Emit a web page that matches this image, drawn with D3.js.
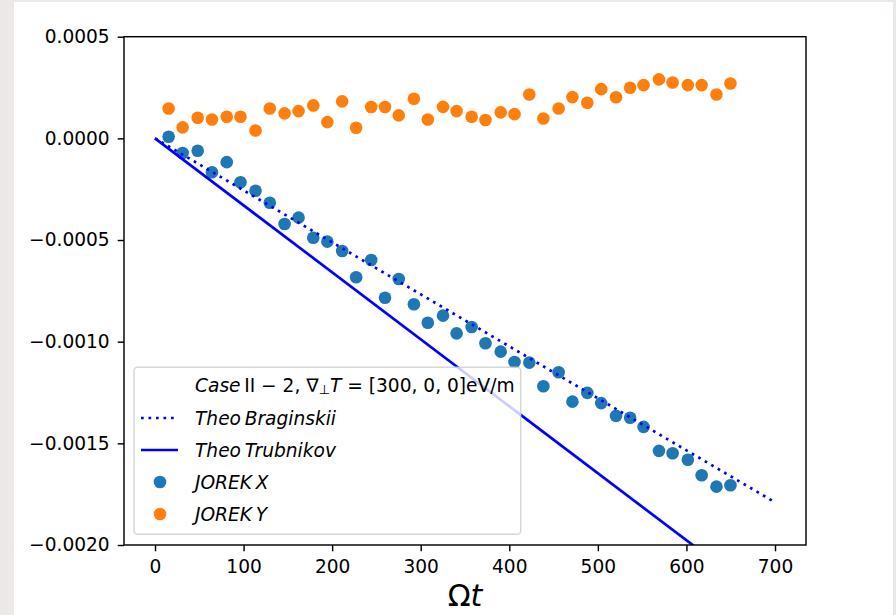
<!DOCTYPE html>
<html>
<head>
<meta charset="utf-8">
<script src="https://cdn.jsdelivr.net/npm/d3@7/dist/d3.min.js"></script>
<style>
  html, body { margin: 0; padding: 0; background: #ede8e8; }
  svg { display: block; }
  text { font-family: "DejaVu Sans", sans-serif; }
</style>
</head>
<body>
<svg id="chart" width="896" height="615"></svg>
<script>
// ---------------- data ----------------
const timeJorek = [15.4, 31.2, 48.2, 64.3, 81.0, 96.5, 113.5, 129.6, 146.3, 162.1,
  178.7, 194.6, 211.3, 227.1, 244.1, 259.7, 275.2, 292.3, 308.0, 325.2,
  340.5, 357.5, 373.1, 390.3, 405.9, 422.6, 438.5, 455.7, 471.3, 488.1,
  503.8, 520.5, 536.4, 551.6, 569.0, 584.4, 601.6, 617.2, 633.9, 649.7];

const jorekX = [0.08e-4, -0.72e-4, -0.61e-4, -1.67e-4, -1.17e-4, -2.16e-4, -2.58e-4, -3.17e-4, -4.21e-4, -3.90e-4,
  -4.89e-4, -5.08e-4, -5.54e-4, -6.83e-4, -5.98e-4, -7.84e-4, -6.92e-4, -8.16e-4, -9.07e-4, -8.72e-4,
  -9.59e-4, -9.28e-4, -10.08e-4, -10.49e-4, -11.00e-4, -11.03e-4, -12.19e-4, -11.50e-4, -12.95e-4, -12.52e-4,
  -13.02e-4, -13.65e-4, -13.74e-4, -14.19e-4, -15.37e-4, -15.49e-4, -15.81e-4, -16.57e-4, -17.13e-4, -17.06e-4];

const jorekY = [1.47e-4, 0.54e-4, 1.01e-4, 0.93e-4, 1.06e-4, 1.06e-4, 0.39e-4, 1.47e-4, 1.23e-4, 1.34e-4,
  1.62e-4, 0.80e-4, 1.82e-4, 0.52e-4, 1.54e-4, 1.54e-4, 1.13e-4, 1.95e-4, 0.93e-4, 1.55e-4,
  1.34e-4, 1.06e-4, 0.90e-4, 1.28e-4, 1.19e-4, 2.16e-4, 0.98e-4, 1.47e-4, 2.03e-4, 1.75e-4,
  2.42e-4, 2.02e-4, 2.49e-4, 2.62e-4, 2.90e-4, 2.75e-4, 2.62e-4, 2.62e-4, 2.16e-4, 2.70e-4];

const timeTheo = [0, 700];
const theoBraginskii = [0, -1.79e-3];
const theoTrubnikov = [0, -2.306e-3];

const xTicks = [0, 100, 200, 300, 400, 500, 600, 700];
const yTicks = [0.0005, 0.0, -0.0005, -0.0010, -0.0015, -0.0020];

const legendLabels = ["case", "Theo Braginskii", "Theo Trubnikov", "JOREK X", "JOREK Y"];

// ---------------- layout ----------------
const W = 896, H = 615;
const L = 124, R = 806, T = 36.7, B = 545;
const C_BLUE = "#1f77b4", C_ORANGE = "#ff7f0e", C_LINE = "#0000ff";
const FS = 18.6;

const svg = d3.select("#chart");
svg.append("rect").attr("x", 0).attr("y", 0).attr("width", W).attr("height", H).attr("fill", "#ede8e8");
svg.append("rect").attr("x", 14).attr("y", 2).attr("width", 879).attr("height", H - 2).attr("fill", "#ffffff");

const x = d3.scaleLinear().domain([-35, 735]).range([L, R]);
const y = d3.scaleLinear().domain([-0.002, 0.0005]).range([B, T]);

svg.append("defs").append("clipPath").attr("id", "plotclip")
  .append("rect").attr("x", L).attr("y", T).attr("width", R - L).attr("height", B - T);

const plot = svg.append("g").attr("clip-path", "url(#plotclip)");

// scatter (drawn below lines, as matplotlib collections)
const ptsX = timeJorek.map((t, i) => [t, jorekX[i]]);
const ptsY = timeJorek.map((t, i) => [t, jorekY[i]]);
plot.selectAll("circle.jx").data(ptsX).enter().append("circle")
  .attr("class", "jx").attr("cx", d => x(d[0])).attr("cy", d => y(d[1]))
  .attr("r", 6.3).attr("fill", C_BLUE);
plot.selectAll("circle.jy").data(ptsY).enter().append("circle")
  .attr("class", "jy").attr("cx", d => x(d[0])).attr("cy", d => y(d[1]))
  .attr("r", 6.3).attr("fill", C_ORANGE);

const line = d3.line().x(d => x(d[0])).y(d => y(d[1]));
plot.append("path").datum(timeTheo.map((t, i) => [t, theoBraginskii[i]]))
  .attr("d", line).attr("fill", "none").attr("stroke", C_LINE)
  .attr("stroke-width", 2.7).attr("stroke-dasharray", "2.7,4.8");
plot.append("path").datum(timeTheo.map((t, i) => [t, theoTrubnikov[i]]))
  .attr("d", line).attr("fill", "none").attr("stroke", C_LINE)
  .attr("stroke-width", 2.7);

// axes
const fmtY = d => (d < 0 ? "\u2212" : "") + Math.abs(d).toFixed(4);
const xAxis = svg.append("g").attr("transform", `translate(0,${B})`)
  .call(d3.axisBottom(x).tickValues(xTicks).tickSize(6.3).tickPadding(8.5).tickSizeOuter(0).tickFormat(d => String(d)));
const yAxis = svg.append("g").attr("transform", `translate(${L},0)`)
  .call(d3.axisLeft(y).tickValues(yTicks).tickSize(6.3).tickPadding(8).tickSizeOuter(0).tickFormat(fmtY));
[xAxis, yAxis].forEach(g => {
  g.select(".domain").remove();
  g.selectAll(".tick line").attr("stroke", "#000").attr("stroke-width", 1.44);
  g.selectAll(".tick text").attr("fill", "#000").style("font-size", FS + "px")
    .style("font-family", "DejaVu Sans");
});

svg.append("rect").attr("x", L).attr("y", T).attr("width", R - L).attr("height", B - T)
  .attr("fill", "none").attr("stroke", "#000").attr("stroke-width", 1.44);

// x label
const xl = svg.append("text").attr("x", (L + R) / 2).attr("y", 606)
  .attr("text-anchor", "middle").style("font-size", "30px").attr("fill", "#000");
xl.append("tspan").text("\u03A9");
xl.append("tspan").style("font-style", "italic").text("t");

// legend
const lg = svg.append("g");
lg.append("rect").attr("x", 134).attr("y", 367.3).attr("width", 386.7).attr("height", 167)
  .attr("rx", 3.6).attr("ry", 3.6)
  .attr("fill", "#ffffff").attr("fill-opacity", 0.8)
  .attr("stroke", "#cccccc").attr("stroke-opacity", 0.8).attr("stroke-width", 1.44);

const rowY = [385, 418, 450, 482, 514];
const tx = 195;

// row 1: case description (no handle)
const t1 = lg.append("text").attr("x", tx).attr("y", rowY[0]).attr("dominant-baseline", "central")
  .style("font-size", FS + "px").attr("fill", "#000");
t1.append("tspan").style("font-style", "italic").text("Case");
t1.append("tspan").text("\u2009II \u2212 2, \u2207");
t1.append("tspan").style("font-size", "13px").attr("dy", 4).text("\u22A5");
t1.append("tspan").style("font-style", "italic").attr("dy", -4).text("T");
t1.append("tspan").text(" = [300, 0, 0]eV/m");

// rows 2-5
[1, 2, 3, 4].forEach(i => {
  lg.append("text").attr("x", tx).attr("y", rowY[i]).attr("dominant-baseline", "central")
    .style("font-size", FS + "px").style("font-style", "italic").attr("fill", "#000")
    .text(legendLabels[i].replace(" ", "\u2009"));
});
lg.append("line").attr("x1", 141).attr("x2", 178).attr("y1", rowY[1]).attr("y2", rowY[1])
  .attr("stroke", C_LINE).attr("stroke-width", 2.7).attr("stroke-dasharray", "2.7,4.8");
lg.append("line").attr("x1", 141).attr("x2", 178).attr("y1", rowY[2]).attr("y2", rowY[2])
  .attr("stroke", C_LINE).attr("stroke-width", 2.7);
lg.append("circle").attr("cx", 160).attr("cy", rowY[3]).attr("r", 6.3).attr("fill", C_BLUE);
lg.append("circle").attr("cx", 160).attr("cy", rowY[4]).attr("r", 6.3).attr("fill", C_ORANGE);
</script>
</body>
</html>
